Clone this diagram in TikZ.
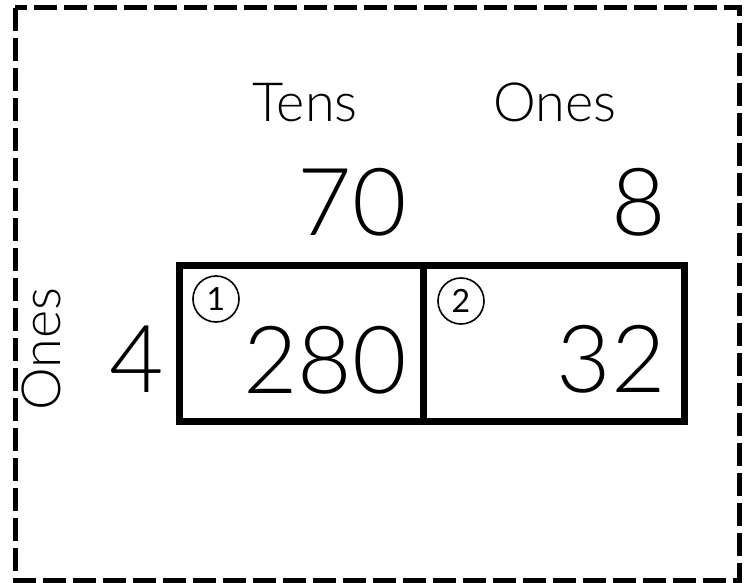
\documentclass[tikz,border=0pt]{standalone}
\usepackage{fontspec}
\setmainfont{Lato}[UprightFont=* Light]
\newfontfamily\tagfont{Lato}
\usetikzlibrary{positioning}

\begin{document}
\begin{tikzpicture}[x=1pt, y=-1pt,
    frame/.style={draw, line width=5pt, dash pattern=on 23pt off 7pt},
    cell/.style={draw, line width=7pt},
    head/.style={inner sep=0pt, anchor=base, font=\fontsize{54}{60}\selectfont},
    num/.style={inner sep=0pt, anchor=base east, font=\fontsize{94}{100}\selectfont},
    tag/.style={circle, draw, line width=1.6pt, minimum size=46pt, inner sep=0pt, font=\tagfont\fontsize{32}{34}\selectfont}]

\useasboundingbox (0,0) rectangle (748,583);
\draw[frame] (15,8) rectangle (739,580);

% headings
\node[head] (tens) at (305,122) {Tens};
\node[head] (ones) at (555,122) {Ones};
\node[head, rotate=90] (side) at (60,349) {Ones};

% factors
\node[num] (f70) at (407,236) {70};
\node[num] (f8) at (666,236) {8};
\node[num] (f4) at (164,392) {4};

% area model
\draw[cell] (179,266) rectangle (684,421);
\draw[cell] (423,266) -- (423,421);
\node[tag] (t1) at (216,299) {1};
\node[tag] (t2) at (461,301) {2};
\node[num] (p280) at (407,393) {280};
\node[num] (p32) at (666,392) {32};

\end{tikzpicture}
\end{document}
